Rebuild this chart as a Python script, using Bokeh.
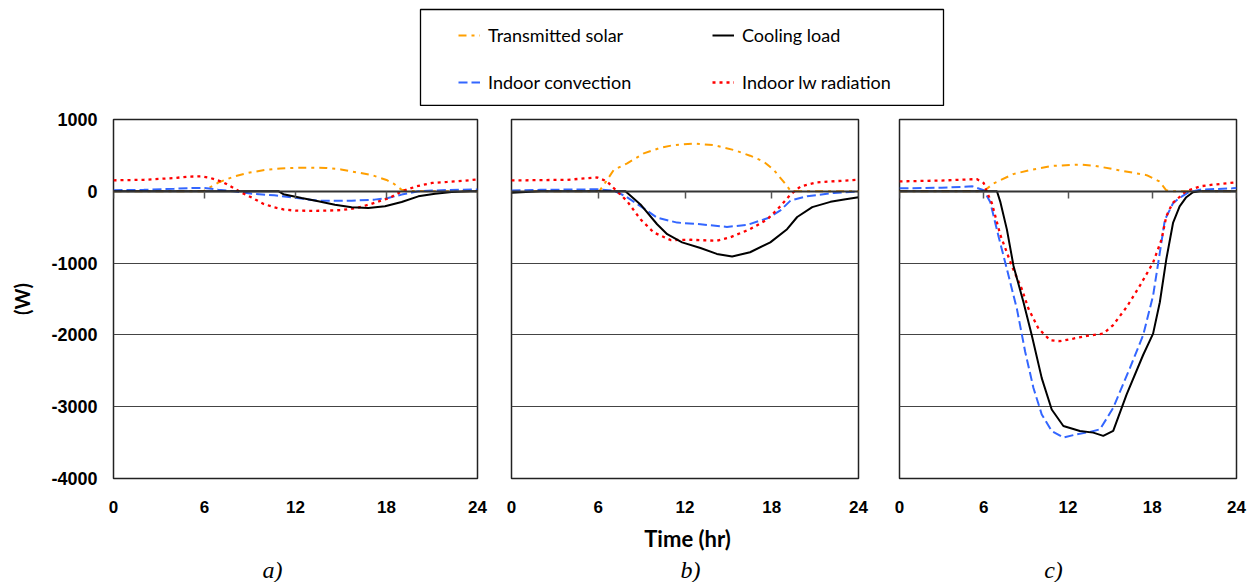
from bokeh.plotting import figure
from bokeh.models import (FixedTicker, LinearAxis, Range1d, Legend, LegendItem,
                          Label, BoxAnnotation, CustomJSTickFormatter)
from bokeh.layouts import column, row
from bokeh.embed import file_html
from bokeh.resources import INLINE

# ---------------- data ----------------
x_ticks = [0, 6, 12, 18, 24]
y_ticks = [-4000, -3000, -2000, -1000, 0, 1000]
series_names = ["Transmitted solar", "Cooling load", "Indoor convection", "Indoor lw radiation"]
panel_labels = ["a)", "b)", "c)"]
x_title = "Time (hr)"
y_title = "(W)"

# panel a
a_t_solar = [0, 3, 5.9, 7, 8, 9, 10, 11, 12, 13, 14, 15, 16, 17, 18, 18.5, 19, 19.5, 21, 24]
a_w_solar = [0, 0, 0, 130, 210, 262, 297, 318, 326, 328, 325, 305, 265, 228, 158, 102, 20, 5, 0, 0]
a_t_cool = [0, 6, 10.9, 11.2, 12.4, 13.5, 14.6, 15.7, 16.8, 17.9, 19, 20.1, 21.2, 22.3, 23.5, 24]
a_w_cool = [0, 0, 0, -40, -93, -139, -186, -223, -232, -209, -149, -70, -33, -9, 0, 0]
a_t_conv = [0, 2, 4, 5.3, 6, 6.9, 7.9, 9.3, 10.6, 11.7, 12.5, 13.5, 15.7, 17.2, 18.1, 19, 20.1, 21, 22, 23, 24]
a_w_conv = [15, 20, 35, 46, 46, 23, 0, -37, -56, -84, -105, -130, -130, -116, -93, -46, 0, 10, 18, 22, 25]
a_t_lw = [0, 2, 4, 5, 5.75, 6.4, 7.2, 7.8, 8.5, 9.2, 9.9, 10.6, 11.25, 12, 13, 14, 15, 16, 17, 17.5,
          18.2, 19, 20, 21, 22, 23, 24]
a_w_lw = [153, 160, 185, 205, 209, 185, 130, 60, -24, -97, -176, -223, -255, -269, -272, -270, -262,
          -235, -175, -139, -93, 0, 70, 116, 130, 145, 165]

# panel b
b_t_solar = [0, 3, 6.02, 6.15, 6.62, 7.07, 8.0, 9.15, 10.3, 11.2, 12.6, 14.0, 15.4, 16.5, 17.45, 18.14,
             18.8, 19.3, 20, 24]
b_w_solar = [0, 0, 0, 23, 160, 298, 390, 528, 606, 643, 666, 643, 574, 496, 413, 298, 138, 9, 0, 0]
b_t_cool = [0, 1, 2, 7.88, 8.92, 10.07, 10.77, 11.8, 13.07, 14.2, 15.26, 16.5, 17.9, 19.06, 19.76, 20.8,
            22.06, 23, 24]
b_w_cool = [-20, -10, 0, 0, -183, -459, -597, -711, -790, -872, -909, -849, -711, -528, -358, -220,
            -147, -115, -83]
b_t_conv = [0, 2, 4, 5.93, 7.07, 7.88, 8.92, 10.07, 11.46, 13.07, 14.9, 16.3, 17.7, 18.6, 19.3, 20.45,
            22.3, 24]
b_w_conv = [10, 20, 25, 28, 9, -69, -207, -367, -436, -459, -496, -468, -376, -266, -129, -69, -23, -5]
b_t_lw = [0, 3.85, 5.93, 6.6, 7.3, 8.0, 8.92, 9.84, 11.0, 12.4, 14.2, 15.1, 16.5, 17.7, 18.6, 19.3,
          20.0, 21.1, 23.6, 24]
b_w_lw = [151, 160, 193, 138, 0, -138, -390, -574, -679, -675, -689, -643, -528, -390, -207, -46,
          69, 124, 156, 160]

# panel c
c_t_solar = [0, 3, 5.99, 6.7, 8.1, 9.25, 10.9, 12.8, 13.97, 15.6, 17.6, 18.5, 19.0, 19.5, 24]
c_w_solar = [0, 0, 0, 110, 239, 294, 354, 372, 354, 294, 225, 138, 14, 0, 0]
c_t_cool = [0, 3, 6.94, 7.17, 7.65, 8.12, 8.83, 9.42, 10.13, 10.84, 11.67, 12.85, 13.8, 14.51, 15.22,
            16.17, 17.35, 18.06, 18.54, 19.0, 19.48, 19.95, 20.4, 20.9, 21.4, 24]
c_w_cool = [0, 0, 0, -140, -534, -1039, -1545, -2005, -2602, -3039, -3269, -3338, -3361, -3407, -3338,
            -2832, -2280, -1982, -1545, -947, -441, -211, -87, -14, 0, 0]
c_t_conv = [0, 3, 5.2, 6.0, 6.46, 7.05, 7.65, 8.36, 8.95, 9.54, 10.13, 10.84, 11.67, 12.62, 13.56,
            14.28, 15.22, 16.4, 17.35, 18.06, 18.54, 18.9, 19.48, 19.9, 20.6, 21.4, 23.7, 24]
c_w_conv = [41, 50, 69, 14, -150, -625, -1085, -1637, -2234, -2740, -3108, -3338, -3430, -3384, -3352,
            -3315, -3016, -2465, -2005, -1453, -855, -396, -166, -97, -14, 23, 41, 45]
c_t_lw = [0, 3, 5.5, 6.0, 6.2, 6.58, 7.17, 8.0, 8.71, 9.19, 9.9, 10.72, 11.43, 12.38, 13.33, 14.51,
          15.2, 16.17, 17.12, 18.06, 18.66, 19.0, 19.44, 20.4, 21.4, 22.3, 23.5, 24]
c_w_lw = [138, 150, 170, 115, 0, -166, -602, -1039, -1361, -1637, -1913, -2073, -2087, -2051, -2014,
          -1982, -1866, -1614, -1315, -993, -672, -349, -166, 0, 69, 92, 115, 125]

# ---------------- styles ----------------
STY = {
    "solar": dict(line_color="#FF9F00", line_width=2, line_dash="8 5 3 5"),
    "cool": dict(line_color="#000000", line_width=2),
    "conv": dict(line_color="#3366FF", line_width=2, line_dash="9 4"),
    "lw": dict(line_color="#FF0000", line_width=2.3, line_dash="3 4"),
}
TICK_FONT = "Liberation Sans"
PANEL_H = 416
FRAME_H = 359
TOP = 13
LEG_H = 106
BOTTOM_H = 60
PAGE_W = 1250


def make_panel(series, width, left, right, show_y):
    p = figure(width=width, height=PANEL_H, x_range=Range1d(0, 24), y_range=Range1d(-4000, 1000),
               output_backend="svg", toolbar_location=None,
               min_border_left=left, min_border_right=right,
               min_border_top=TOP, min_border_bottom=PANEL_H - TOP - FRAME_H)
    p.background_fill_color = "white"
    p.border_fill_color = "white"
    p.outline_line_color = "#222222"
    p.outline_line_width = 1.5

    p.xgrid.grid_line_color = None
    p.ygrid.ticker = FixedTicker(ticks=y_ticks)
    p.ygrid.grid_line_color = "#444444"
    p.ygrid.grid_line_width = 1

    xa = p.xaxis[0]
    xa.ticker = FixedTicker(ticks=x_ticks)
    xa.major_tick_out = 0
    xa.major_tick_in = 0
    xa.minor_tick_line_color = None
    xa.axis_line_color = None
    xa.major_label_standoff = 22
    xa.major_label_text_font = TICK_FONT
    xa.major_label_text_font_style = "bold"
    xa.major_label_text_font_size = "17px"
    xa.major_label_text_color = "black"

    ya = p.yaxis[0]
    if show_y:
        ya.ticker = FixedTicker(ticks=y_ticks)
        ya.formatter = CustomJSTickFormatter(code="return tick.toFixed(0)")
        ya.major_tick_out = 0
        ya.major_tick_in = 0
        ya.minor_tick_line_color = None
        ya.axis_line_color = None
        ya.major_label_standoff = 16
        ya.major_label_text_font = TICK_FONT
        ya.major_label_text_font_style = "bold"
        ya.major_label_text_font_size = "18px"
        ya.major_label_text_color = "black"
        ya.axis_label = y_title
        ya.axis_label_text_font = "Lato"
        ya.axis_label_text_font_style = "bold"
        ya.axis_label_text_font_size = "20px"
        ya.axis_label_text_color = "black"
        ya.axis_label_standoff = 14
    else:
        ya.visible = False

    # zero axis with downward ticks
    zax = LinearAxis(fixed_location=0, ticker=FixedTicker(ticks=x_ticks),
                     formatter=CustomJSTickFormatter(code="return ''"),
                     major_tick_out=7, major_tick_in=0, minor_tick_line_color=None,
                     axis_line_color="#333333", axis_line_width=2,
                     major_tick_line_color="#555555", major_tick_line_width=1.5)
    p.add_layout(zax, "below")

    for key in ["solar", "conv", "lw", "cool"]:
        t, w = series[key]
        p.line(t, w, **STY[key])
    return p


pa = make_panel({"solar": (a_t_solar, a_w_solar), "cool": (a_t_cool, a_w_cool),
                 "conv": (a_t_conv, a_w_conv), "lw": (a_t_lw, a_w_lw)}, 493, 113, 16, True)
pb = make_panel({"solar": (b_t_solar, b_w_solar), "cool": (b_t_cool, b_w_cool),
                 "conv": (b_t_conv, b_w_conv), "lw": (b_t_lw, b_w_lw)}, 387, 18, 22, False)
pc = make_panel({"solar": (c_t_solar, c_w_solar), "cool": (c_t_cool, c_w_cool),
                 "conv": (c_t_conv, c_w_conv), "lw": (c_t_lw, c_w_lw)}, 370, 19, 14, False)


def blank_fig(h):
    f = figure(width=PAGE_W, height=h, x_range=Range1d(0, 1), y_range=Range1d(0, 1),
               output_backend="svg", toolbar_location=None,
               min_border_left=0, min_border_right=0, min_border_top=0, min_border_bottom=0)
    f.axis.visible = False
    f.grid.grid_line_color = None
    f.outline_line_color = None
    f.border_fill_color = "white"
    f.background_fill_color = "white"
    return f


# ---------------- legend box ----------------
lf = blank_fig(LEG_H)
lf.add_layout(BoxAnnotation(left=420, right=943, bottom=1, top=97,
                            left_units="screen", right_units="screen",
                            bottom_units="screen", top_units="screen",
                            fill_alpha=0, line_color="black", line_alpha=1.0, line_width=1.3))

nan = float("nan")
r_solar = lf.line([nan], [nan], **STY["solar"])
r_cool = lf.line([nan], [nan], **STY["cool"])
r_conv = lf.line([nan], [nan], **STY["conv"])
r_lw = lf.line([nan], [nan], **STY["lw"])

common = dict(padding=0, margin=0, spacing=25, glyph_width=22, glyph_height=20,
              label_height=20, label_standoff=8, border_line_color=None,
              background_fill_alpha=0, label_text_font="Lato", label_text_font_size="18px",
              label_text_color="black")
leg1 = Legend(items=[LegendItem(label=series_names[0], renderers=[r_solar]),
                     LegendItem(label=series_names[2], renderers=[r_conv])],
              location=(458, 13), **common)
leg2 = Legend(items=[LegendItem(label=series_names[1], renderers=[r_cool]),
                     LegendItem(label=series_names[3], renderers=[r_lw])],
              location=(712, 13), **common)
lf.add_layout(leg1)
lf.add_layout(leg2)

# ---------------- bottom captions ----------------
bf = blank_fig(BOTTOM_H)
bf.add_layout(Label(x=687, y=44, x_units="screen", y_units="screen", text=x_title,
                    text_font="Lato", text_font_style="bold", text_font_size="22px",
                    text_color="black", text_align="center", text_baseline="middle"))
for lab, xpos in zip(panel_labels, [272, 690, 1053]):
    bf.add_layout(Label(x=xpos, y=13, x_units="screen", y_units="screen", text=lab,
                        text_font="Liberation Serif", text_font_style="italic",
                        text_font_size="24px", text_color="black",
                        text_align="center", text_baseline="middle"))

layout = column(lf, row(pa, pb, pc), bf)
open("out.html", "w").write(file_html(layout, INLINE))
